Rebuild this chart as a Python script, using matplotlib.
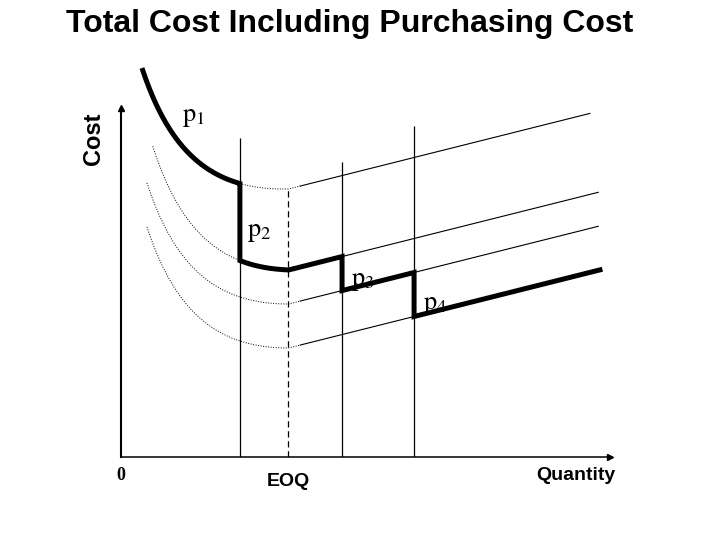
import numpy as np
import matplotlib

matplotlib.use("Agg")
import matplotlib.pyplot as plt

plt.rcParams["mathtext.fontset"] = "stix"

# --- diagram values (quantity units on x, cost units on y) ---
price_labels = [r"$\mathrm{p}_1$", r"$\mathrm{p}_2$", r"$\mathrm{p}_3$", r"$\mathrm{p}_4$"]
eoq = 100
min_cost = [268, 187, 153, 109]        # total cost at the EOQ for each price
arc_shift = [-3, 4, 0, 0]              # small hand-drawn offset of each curve
curve_start = [13, 19, 15.5, 15.5]
curve_end = [280, 285, 285, 286]
break_qty = [71, 132, 175]             # price-break quantities
break_top = [319, 295, 331]
eoq_top = 267
arc_steep, arc_width = 0.916, 138.5    # ordering + holding cost shape left of EOQ
slope_after = 0.42                     # cost growth right of EOQ
dot_end = 107                          # dotted part of the curves ends here


def cost(i, q):
    qm = eoq + arc_shift[i]
    left = arc_steep * (q - qm) ** 2 / (q - qm + arc_width)
    right = slope_after * (q - eoq)
    return min_cost[i] + np.where(q <= eoq, left, right)


fig = plt.figure(figsize=(7.2, 5.4), dpi=100)
fig.patch.set_facecolor("white")
ax = fig.add_axes([121 / 720, 83 / 540, 489 / 720, 349 / 540])
ax.set_xlim(0, 292)
ax.set_ylim(0, 349)
for s in ("top", "right"):
    ax.spines[s].set_visible(False)
ax.spines["left"].set_linewidth(1.5)
ax.spines["bottom"].set_linewidth(1.1)
ax.set_xticks([]); ax.set_yticks([])
ax.plot(1, 0, ">k", ms=5, transform=ax.transAxes, clip_on=False)
ax.plot(0, 1, "^k", ms=5, transform=ax.transAxes, clip_on=False)

# price-break and EOQ markers
ax.vlines(break_qty, 0, break_top, color="black", lw=0.9)
ax.vlines(eoq, 0, eoq_top, color="black", lw=0.9, linestyles=(0, (5, 3)))


def thin(i, a, b):
    if b <= a:
        return
    if a < dot_end:
        q = np.linspace(a, min(b, dot_end), 120)
        ax.plot(q, cost(i, q), color="black", lw=0.7, ls=(0, (1, 1.6)))
    if b > dot_end:
        q = np.linspace(max(a, dot_end), b, 120)
        ax.plot(q, cost(i, q), color="black", lw=0.8)


thick_q, thick_c = [], []
for i in range(4):
    lo = curve_start[0] if i == 0 else break_qty[i - 1]
    hi = break_qty[i] if i < 3 else curve_end[3]
    thin(i, curve_start[i], lo)
    thin(i, hi, curve_end[i])
    q = np.linspace(lo, hi, 150)
    thick_q.append(q); thick_c.append(cost(i, q))
ax.plot(np.concatenate(thick_q), np.concatenate(thick_c), color="black", lw=3.6,
        solid_joinstyle="miter", zorder=5, clip_on=False)

# price labels
label_pos = [(36.4, 336), (75.2, 221), (137.3, 172), (180.3, 148)]
for lab, (x, y) in zip(price_labels, label_pos):
    ax.text(x, y, lab, fontsize=19, ha="left", va="baseline", zorder=6)

ax.text(0, -19, "0", fontsize=13, fontweight="bold", family="Liberation Serif",
        ha="center", va="center")
ax.text(eoq, -25, "EOQ", fontsize=14, fontweight="bold", family="Liberation Sans",
        ha="center", va="center")
ax.text(271.6, -19, "Quantity", fontsize=14, fontweight="bold", family="Liberation Sans",
        ha="center", va="center")

fig.text(350 / 720, 1 - 24 / 540, "Total Cost Including Purchasing Cost", fontsize=23,
         fontweight="bold", family="Liberation Sans", ha="center", va="center")
fig.text(93 / 720, 1 - 139 / 540, "Cost", fontsize=17, fontweight="bold",
         family="Liberation Sans", rotation=90, ha="center", va="center")

fig.savefig("out.png", dpi=100, facecolor="white")
